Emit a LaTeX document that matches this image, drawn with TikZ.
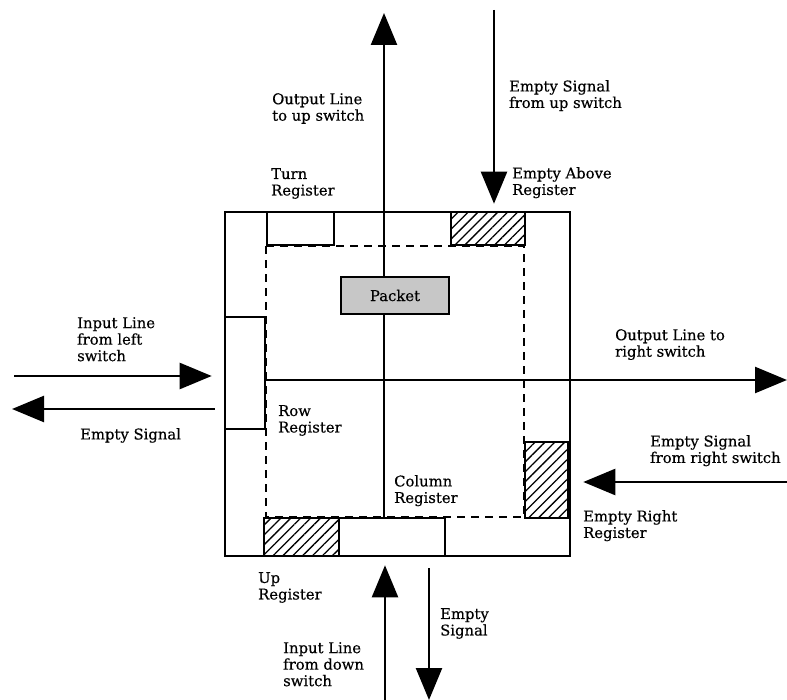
\documentclass[tikz,border=0pt]{standalone}
\usepackage{fontspec}
\setmainfont{DejaVu Serif}[FakeBold=0.4]
\usetikzlibrary{arrows.meta,patterns.meta}
\newcommand{\lbl}{\fontsize{14.8}{16.5}\selectfont}

\begin{document}
\begin{tikzpicture}[x=1pt,y=-1pt,
  reg/.style={draw,line width=2.2pt,fill=white,inner sep=0pt},
  hatchreg/.style={draw,line width=2.2pt,inner sep=0pt,preaction={fill=white},
    pattern={Lines[angle=45,distance=7pt,line width=1.3pt]}},
  sig/.style={line width=2.4pt,-{Triangle[length=32pt,width=26pt]}},
  txt/.style={anchor=north west,align=left,inner sep=0pt,font=\lbl}]
\useasboundingbox (0,0) rectangle (787,700);
% switch
\node[draw,line width=2.6pt,minimum width=345pt,minimum height=344pt,inner sep=0pt] (switch) at (397.5,384) {};
% registers
\node[reg,minimum width=67pt,minimum height=33pt] (turnreg) at (300.5,228.5) {};
\node[reg,minimum width=40pt,minimum height=112pt] (rowreg) at (245,373) {};
\node[reg,minimum width=106pt,minimum height=38pt] (colreg) at (392,537) {};
\node[hatchreg,minimum width=74pt,minimum height=33pt] (abovereg) at (488,228.5) {};
\node[hatchreg,minimum width=43pt,minimum height=76pt] (rightreg) at (546.5,480) {};
\node[hatchreg,minimum width=75pt,minimum height=38pt] (upreg) at (301.5,537) {};
\draw[line width=2.2pt,dash pattern=on 8pt off 6pt] (turnreg.south west) rectangle (rightreg.west |- colreg.north);
% lines through the switch
\coordinate (upOut) at (384,13);
\coordinate (rightOut) at (787,380);
\draw[sig] (colreg.north -| upOut) -- (upOut);
\draw[sig] (rowreg.east |- rightOut) -- (rightOut);
\node[draw,line width=2.2pt,fill=black!22,minimum width=108pt,minimum height=37pt,inner sep=0pt,font=\lbl] (packet) at (395,295.5) {Packet};
% signals in and out
\coordinate (leftIn) at (14,376);
\coordinate (leftOut) at (12,409);
\coordinate (upIn) at (494,10);
\coordinate (rightIn) at (787,482);
\coordinate (downIn) at (385,700);
\coordinate (downOut) at (429,700);
\draw[sig,shorten >=12pt] (leftIn) -- (leftIn -| switch.west);
\draw[sig,shorten <=9pt] (leftOut -| switch.west) -- (leftOut);
\draw[sig,shorten >=7pt] (upIn) -- (upIn |- switch.north);
\draw[sig,shorten >=12pt] (rightIn) -- (rightIn -| switch.east);
\draw[sig,shorten >=8pt] (downIn) -- (downIn |- switch.south);
\draw[sig,shorten <=11pt] (downOut |- switch.south) -- (downOut);
% labels
\node[txt] (outUpLbl) at (272,93) {Output Line\\to up switch};
\node[txt] (emptyUpLbl) at (509,80) {Empty Signal\\from up switch};
\node[txt] (aboveLbl) at (512,167) {Empty Above\\Register};
\node[txt] (turnLbl) at (271,168) {Turn\\Register};
\node[txt] (rowLbl) at (278,405) {Row\\Register};
\node[txt] (colLbl) at (394,475) {Column\\Register};
\node[txt] (inLeftLbl) at (77,317) {Input Line\\from left\\switch};
\node[txt] (emptyLeftLbl) at (80,428) {Empty Signal};
\node[txt] (outRightLbl) at (615,329) {Output Line to\\right switch};
\node[txt] (emptyRightLbl) at (650,435) {Empty Signal\\from right switch};
\node[txt] (rightRegLbl) at (583,510) {Empty Right\\Register};
\node[txt] (upRegLbl) at (258,572) {Up\\Register};
\node[txt] (inDownLbl) at (283,642) {Input Line\\from down\\switch};
\node[txt] (emptyDownLbl) at (440,608) {Empty\\Signal};
\end{tikzpicture}
\end{document}
